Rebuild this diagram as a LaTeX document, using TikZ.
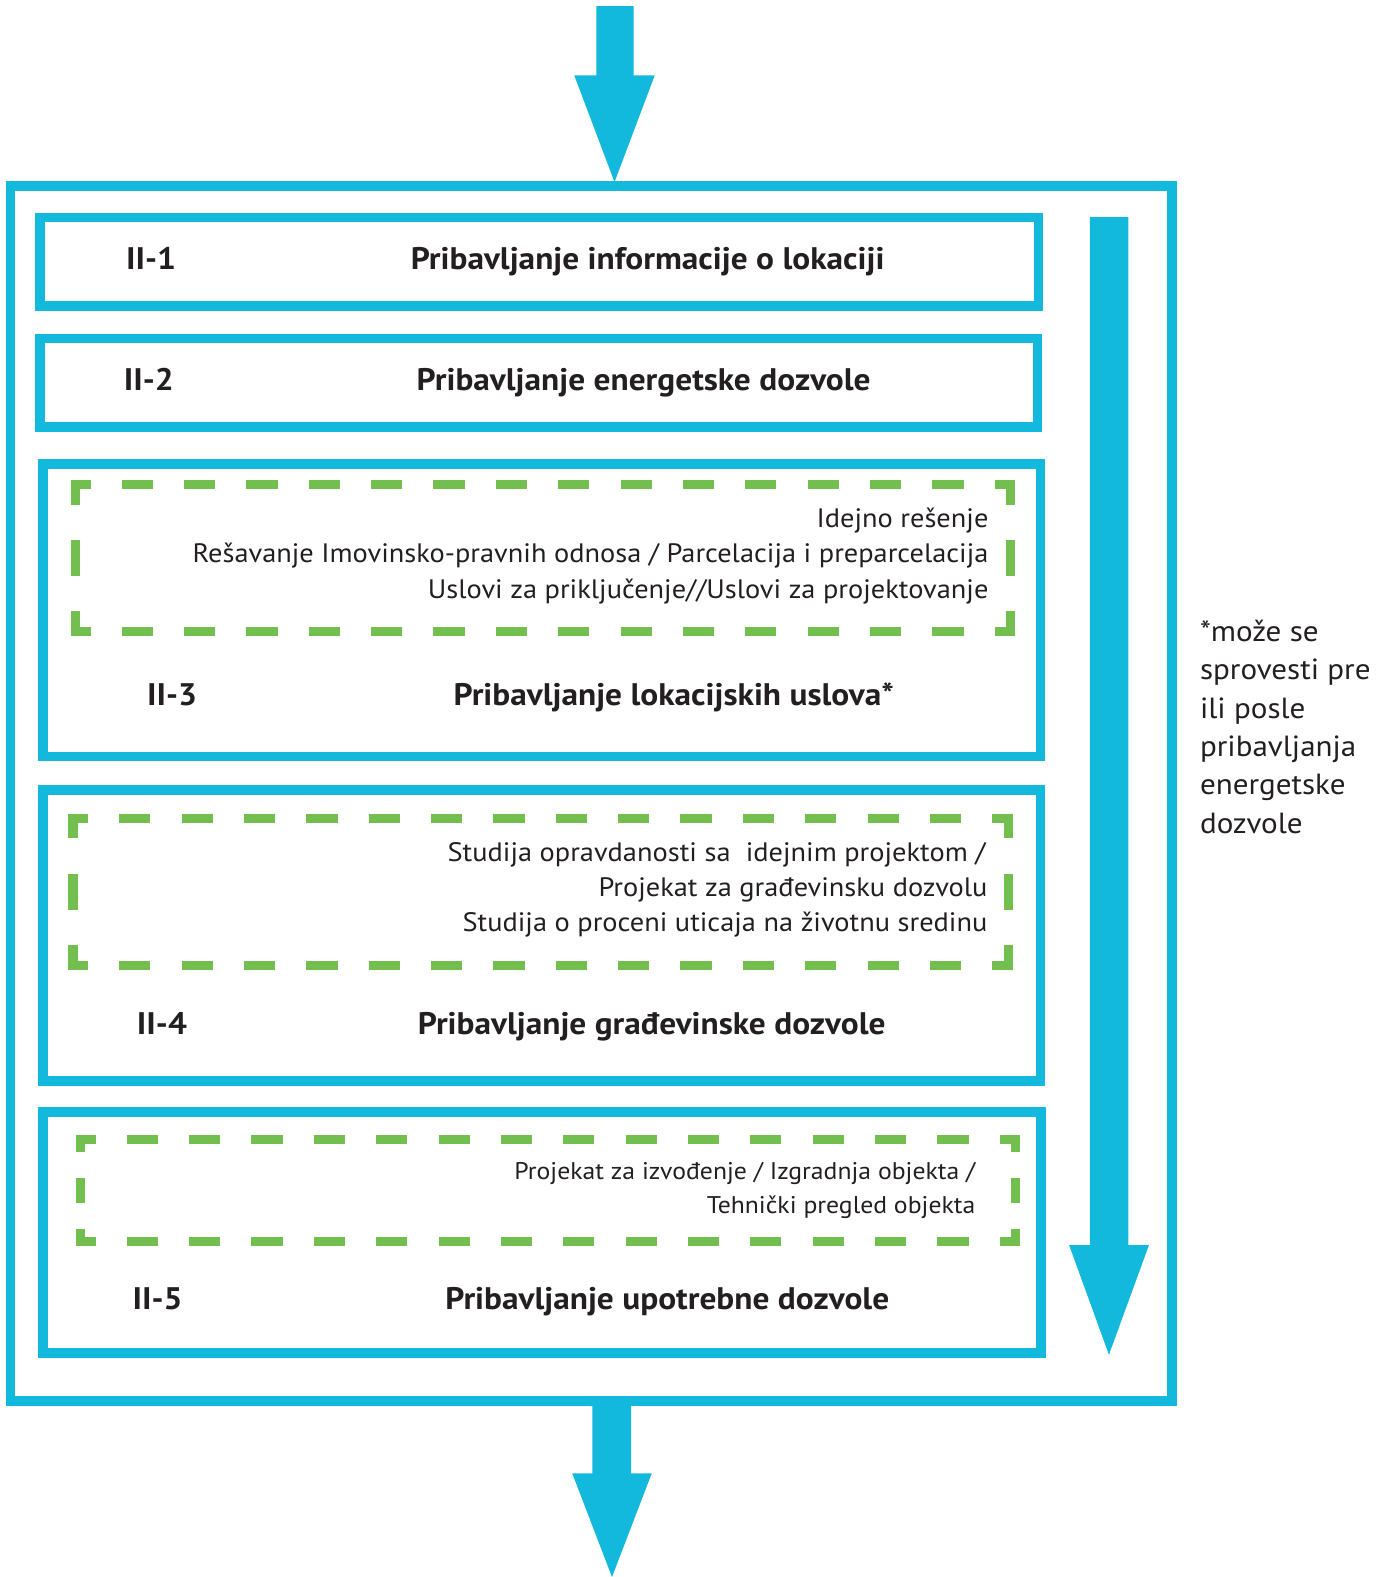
\documentclass[tikz,border=0pt]{standalone}
\usepackage{fontspec}
\setmainfont{PT Sans}[FakeStretch=1.065]
\newfontfamily\boldf{PT Sans}[FakeStretch=1.07]
\definecolor{cy}{RGB}{18,185,220}
\definecolor{gr}{RGB}{114,191,80}
\definecolor{tx}{RGB}{35,31,32}
\begin{document}
\begin{tikzpicture}[x=1pt,y=-1pt,
  box/.style={draw=cy,line width=9.6pt},
  hd/.style={draw=gr,line width=9pt,dash pattern=on 31pt off 31pt,dash phase=11.5pt},
  vd/.style={draw=gr,line width=9pt,dash pattern=on 36pt off 35pt,dash phase=16pt},
  vds/.style={draw=gr,line width=9pt,dash pattern=on 25pt off 25.5pt,dash phase=12.5pt},
  lbl/.style={anchor=base west,inner sep=0pt,text=tx,font=\boldf\bfseries\fontsize{31}{37}\selectfont},
  ttl/.style={anchor=base,inner sep=0pt,text=tx,font=\boldf\bfseries\fontsize{31}{37}\selectfont},
  sub/.style={anchor=base east,inner sep=0pt,text=tx,font=\fontsize{26.5}{32}\selectfont},
  subs/.style={anchor=base east,inner sep=0pt,text=tx,font=\fontsize{24}{30}\selectfont},
  side/.style={anchor=base west,inner sep=0pt,text=tx,font=\fontsize{29}{35}\selectfont},
  arr/.style={fill=cy}]
\useasboundingbox (0,0) rectangle (1382,1568);
% outer frame
\draw[box] (10.4,185) rectangle (1165.3,1393);
% top arrow
\fill[arr] (593,6) -- (630,6) -- (630,75) -- (651,75) -- (611,181) -- (571,75) -- (593,75) -- cycle;
% bottom arrow
\fill[arr] (589,1392) -- (627.5,1392) -- (627.5,1465) -- (648,1465) -- (608.5,1568) -- (569,1465) -- (589,1465) -- cycle;
% right arrow
\fill[arr] (1083.7,216) -- (1121.8,216) -- (1121.8,1238) -- (1142.4,1238) -- (1102.6,1347) -- (1063,1238) -- (1083.7,1238) -- cycle;
% boxes
\draw[box] (39.5,216.2) rectangle (1032.4,304);
\draw[box] (39.5,336.4) rectangle (1031.7,424.5);
\draw[box] (42.5,461.6) rectangle (1034.5,752.3);
\draw[box] (42.5,785.5) rectangle (1034.5,1075);
\draw[box] (43,1105.6) rectangle (1035,1345.2);
% dashed II-3
\draw[hd] (70.5,482) -- (1009.5,482);
\draw[hd] (70.5,628) -- (1009.5,628);
\draw[vd] (75,482) -- (75,628);
\draw[vd] (1005,482) -- (1005,628);
% dashed II-4
\draw[hd] (68.1,813.6) -- (1007.2,813.6);
\draw[hd] (68.1,960.4) -- (1007.2,960.4);
\draw[vd] (72.6,813.6) -- (72.6,960.4);
\draw[vd] (1002.7,813.6) -- (1002.7,960.4);
% dashed II-5
\draw[hd] (75.5,1133) -- (1014.5,1133);
\draw[hd] (75.5,1234) -- (1014.5,1234);
\draw[vds] (80,1133) -- (80,1234);
\draw[vds] (1010,1133) -- (1010,1234);
% labels and titles
\node[lbl] (n1) at (125.2,267.7) {II-1};
\node[ttl] (t1) at (644,267.7) {Pribavljanje informacije o lokaciji};
\node[lbl] (n2) at (123,388) {II-2};
\node[ttl] (t2) at (640,388) {Pribavljanje energetske dozvole};
\node[lbl] (n3) at (146,701) {II-3};
\node[ttl] (t3) at (670,701) {Pribavljanje lokacijskih uslova*};
\node[lbl] (n4) at (136,1028.5) {II-4};
\node[ttl] (t4) at (648,1028.5) {Pribavljanje građevinske dozvole};
\node[lbl] (n5) at (131.6,1302.4) {II-5};
\node[ttl] (t5) at (663.5,1302.4) {Pribavljanje upotrebne dozvole};
% sub texts
\node[sub] (s31) at (983,524) {Idejno rešenje};
\node[sub] (s32) at (983,559.4) {Rešavanje Imovinsko-pravnih odnosa / Parcelacija i preparcelacija};
\node[sub] (s33) at (983,594.9) {Uslovi za priključenje//Uslovi za projektovanje};
\node[sub] (s41) at (980,856.7) {Studija opravdanosti sa\ \ idejnim projektom /};
\node[sub] (s42) at (982,891.5) {Projekat za građevinsku dozvolu};
\node[sub] (s43) at (982,926.3) {Studija o proceni uticaja na životnu sredinu};
\node[subs] (s51) at (970,1173) {Projekat za izvođenje / Izgradnja objekta /};
\node[subs] (s52) at (970,1206.3) {Tehnički pregled objekta};
% side note
\node[side] (c1) at (1193,638) {*može se};
\node[side] (c2) at (1193,676.1) {sprovesti pre};
\node[side] (c3) at (1193,714.2) {ili posle};
\node[side] (c4) at (1193,752.3) {pribavljanja};
\node[side] (c5) at (1193,790.4) {energetske};
\node[side] (c6) at (1193,828.5) {dozvole};
\end{tikzpicture}
\end{document}
